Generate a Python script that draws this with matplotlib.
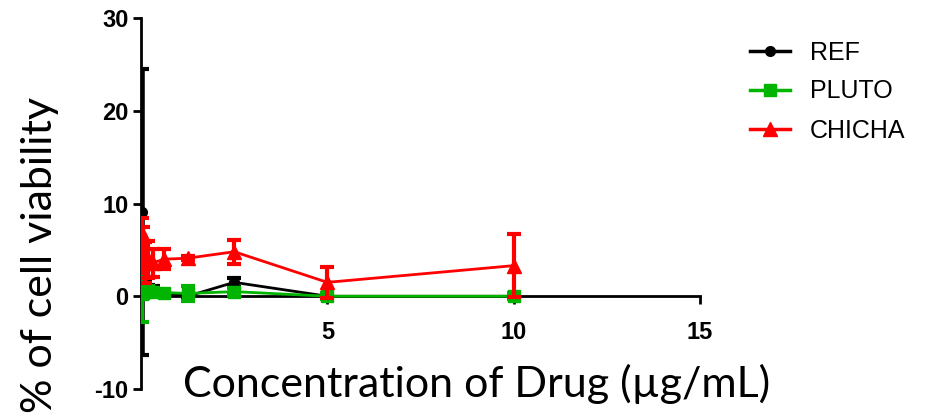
import numpy as np
import matplotlib
matplotlib.use("Agg")
import matplotlib.pyplot as plt
from matplotlib.lines import Line2D

plt.rcParams["axes.unicode_minus"] = False

# twofold dilution series, ug/mL
conc = [0.03, 0.06, 0.1, 0.18, 0.3125, 0.625, 1.25, 2.5, 5, 10]

ref_mean = [9.1, 1.5, 1.0, 0.8, 0.8, 0.4, 0.0, 1.5, 0.0, 0.0]
ref_err = [15.4, 0.5, 0.5, 0.4, 0.3, 0.3, 0.2, 0.5, 0.1, 0.1]

pluto_mean = [0.2, 0.4, 0.5, 0.6, 0.5, 0.4, 0.3, 0.5, 0.0, 0.0]
pluto_err = [3.0, 0.6, 0.4, 0.5, 0.3, 0.3, 0.8, 0.4, 0.3, 0.3]

chicha_mean = [6.8, 5.0, 3.6, 4.0, 3.6, 4.0, 4.1, 4.8, 1.5, 3.3]
chicha_err = [1.6, 2.5, 2.2, 2.0, 1.5, 1.1, 0.2, 1.3, 1.7, 3.4]

labels = ["REF", "PLUTO", "CHICHA"]
xticks = [5, 10, 15]
yticks = [-10, 0, 10, 20, 30]

fig = plt.figure(figsize=(9.3, 4.2), dpi=100)
ax = fig.add_axes([141/930, 1-389/420, 559/930, 371/420])

styles = [("black", "o", 7, ref_mean, ref_err, 4),
          ("#00b400", "s", 9, pluto_mean, pluto_err, 3),
          ("#ff0000", "^", 10, chicha_mean, chicha_err, 3)]
handles = []
for (c, m, ms, ys, es, ew), lab, z in zip(styles, labels, [2, 3, 4]):
    ax.errorbar(conc, ys, yerr=es, color=c, marker=m, ms=ms, lw=2,
                elinewidth=ew, capsize=5, capthick=3, zorder=z)
    handles.append(Line2D([], [], color=c, marker=m, ms=ms, lw=2.5, label=lab))

ax.set_xlim(0, 15)
ax.set_ylim(-10, 30)
ax.spines["top"].set_visible(False)
ax.spines["right"].set_visible(False)
ax.spines["bottom"].set_position(("data", 0))
for s in ("left", "bottom"):
    ax.spines[s].set_linewidth(2)
ax.set_xticks(xticks)
ax.set_yticks(yticks)
ax.tick_params(width=2, length=6, labelsize=17)
for t in ax.get_xticklabels() + ax.get_yticklabels():
    t.set_fontweight("bold")
    t.set_family("Liberation Sans")
ax.tick_params(axis="x", pad=12)
ax.tick_params(axis="y", pad=3)

fig.text(40/930, 1-255/420, "% of cell viability", rotation=90, ha="center",
         va="center", fontsize=31, family="Lato")
fig.text(477/930, 1-384/420, "Concentration of Drug (µg/mL)", ha="center",
         va="center", fontsize=31, family="Lato")

fig.legend(handles=handles, loc="upper left", bbox_to_anchor=(727/930, 1-18/420),
           frameon=False, prop={"family": "Liberation Sans", "size": 18},
           handlelength=1.6, labelspacing=0.6, handletextpad=0.8)

fig.savefig("out.png", dpi=100)
